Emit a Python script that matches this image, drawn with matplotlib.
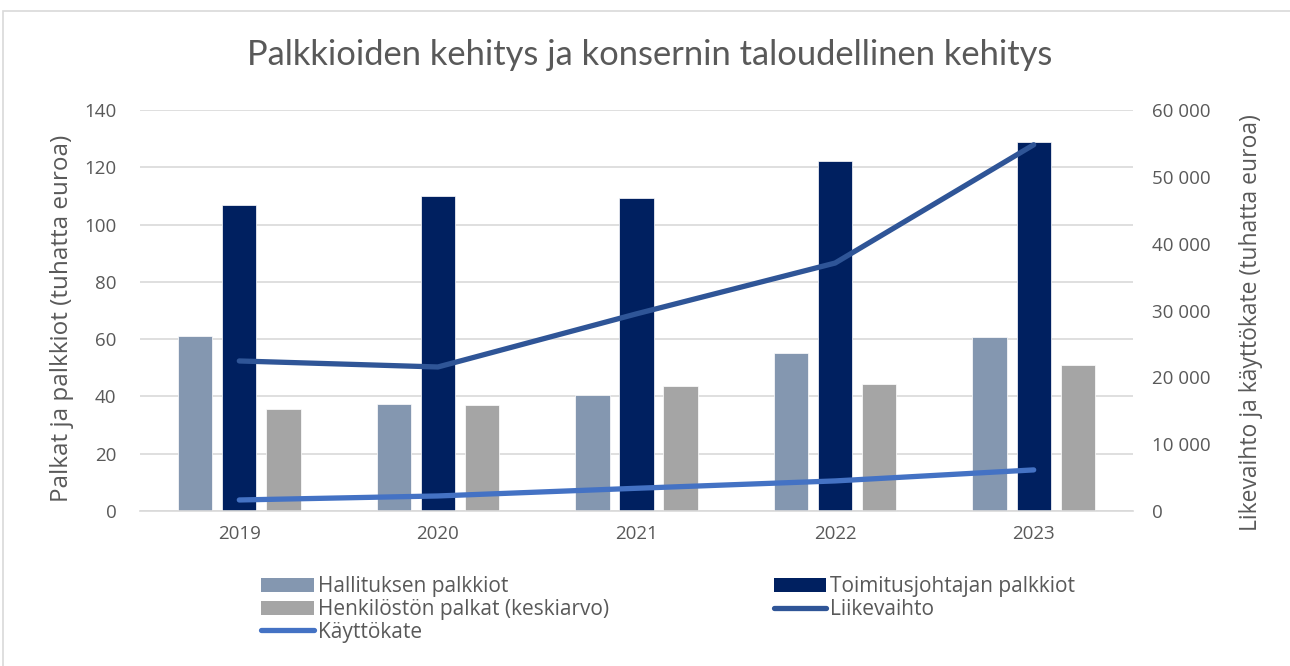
import matplotlib
matplotlib.use("Agg")
import matplotlib.pyplot as plt
import numpy as np
from matplotlib.patches import Patch, Rectangle
from matplotlib.lines import Line2D
from matplotlib.ticker import FuncFormatter, MultipleLocator

years = ["2019", "2020", "2021", "2022", "2023"]
hallitus = [61.1, 37.4, 40.5, 55.2, 60.8]
toimitusjohtaja = [106.8, 110.0, 109.3, 122.2, 128.9]
henkilosto = [35.6, 37.0, 43.6, 44.3, 51.0]
liikevaihto = [22450, 21550, 29500, 37100, 54800]
kayttokate = [1650, 2250, 3400, 4500, 6150]

bar_labels = ["Hallituksen palkkiot", "Toimitusjohtajan palkkiot", "Henkilöstön palkat (keskiarvo)"]
line_labels = ["Liikevaihto", "Käyttökate"]

C_HALL = "#8497B0"
C_TJ = "#002060"
C_HENK = "#A5A5A5"
C_LV = "#2F5597"
C_KK = "#4472C4"
TXT = "#595959"
GRID = "#D9D9D9"

plt.rcParams["font.family"] = ["Open Sans", "DejaVu Sans"]

fig = plt.figure(figsize=(12.9, 6.66), dpi=100)
ax = fig.add_axes([140 / 1290, 1 - 511 / 666, 993 / 1290, 401 / 666])
ax2 = ax.twinx()

# outer chart border
fig.patches.append(Rectangle((3 / 1290, -0.05), 1.2, 1 - 11 / 666 + 0.05,
                             transform=fig.transFigure, fill=False,
                             edgecolor=GRID, linewidth=1.2))

x = np.arange(len(years))
w = 0.173
off = 0.222
ax.bar(x - off, hallitus, w, color=C_HALL, edgecolor="white", linewidth=0.5, zorder=2)
ax.bar(x, toimitusjohtaja, w, color=C_TJ, edgecolor="white", linewidth=0.5, zorder=2)
ax.bar(x + off, henkilosto, w, color=C_HENK, edgecolor="white", linewidth=0.5, zorder=2)

ax2.plot(x, liikevaihto, color=C_LV, linewidth=3.8, solid_capstyle="round", solid_joinstyle="round")
ax2.plot(x, kayttokate, color=C_KK, linewidth=3.8, solid_capstyle="round", solid_joinstyle="round")

ax.set_xlim(-0.5, 4.5)
ax.set_ylim(0, 140)
ax2.set_ylim(0, 60000)
ax.yaxis.set_major_locator(MultipleLocator(20))
ax2.yaxis.set_major_locator(MultipleLocator(10000))
ax2.yaxis.set_major_formatter(FuncFormatter(lambda v, p: f"{int(v):,}".replace(",", " ")))

ax.set_xticks(x)
ax.set_xticklabels(years)
ax.grid(axis="y", color=GRID, linewidth=1.2, zorder=0)
ax.set_axisbelow(True)

for a in (ax, ax2):
    for s in a.spines.values():
        s.set_visible(False)
    a.tick_params(length=0, labelsize=13.5, labelcolor=TXT)
ax.spines["bottom"].set_visible(True)
ax.spines["bottom"].set_color(GRID)
ax.spines["bottom"].set_linewidth(1.2)
ax.tick_params(axis="x", pad=10)
ax.tick_params(axis="y", pad=17)
ax2.tick_params(axis="y", pad=14)

ax.set_ylabel("Palkat ja palkkiot (tuhatta euroa)", fontsize=17.5, color=TXT, labelpad=7)
ax.yaxis.label.set_y(0.48)
ax2.set_ylabel("Likevaihto ja käyttökate (tuhatta euroa)", fontsize=16.5, color=TXT, labelpad=20)
ax2.yaxis.label.set_y(0.47)

fig.text(650 / 1290, 1 - 55 / 666, "Palkkioiden kehitys ja konsernin taloudellinen kehitys",
         ha="center", va="center", fontsize=24.8, color=TXT, family=["Lato", "DejaVu Sans"])

handles = [
    Patch(facecolor=C_HALL, label=bar_labels[0]),
    Patch(facecolor=C_HENK, label=bar_labels[2]),
    Line2D([], [], color=C_KK, linewidth=3.8, solid_capstyle="round", label=line_labels[1]),
    Patch(facecolor=C_TJ, label=bar_labels[1]),
    Line2D([], [], color=C_LV, linewidth=3.8, solid_capstyle="round", label=line_labels[0]),
]
fig.legend(handles=handles, ncol=2, loc="upper left", bbox_to_anchor=(251 / 1290, 1 - 566 / 666),
           frameon=False, fontsize=15, labelcolor=TXT, handlelength=2.5, handleheight=0.7,
           handletextpad=0.22, columnspacing=7.9, labelspacing=0.08, borderpad=0)

fig.savefig("out.png", dpi=100)
